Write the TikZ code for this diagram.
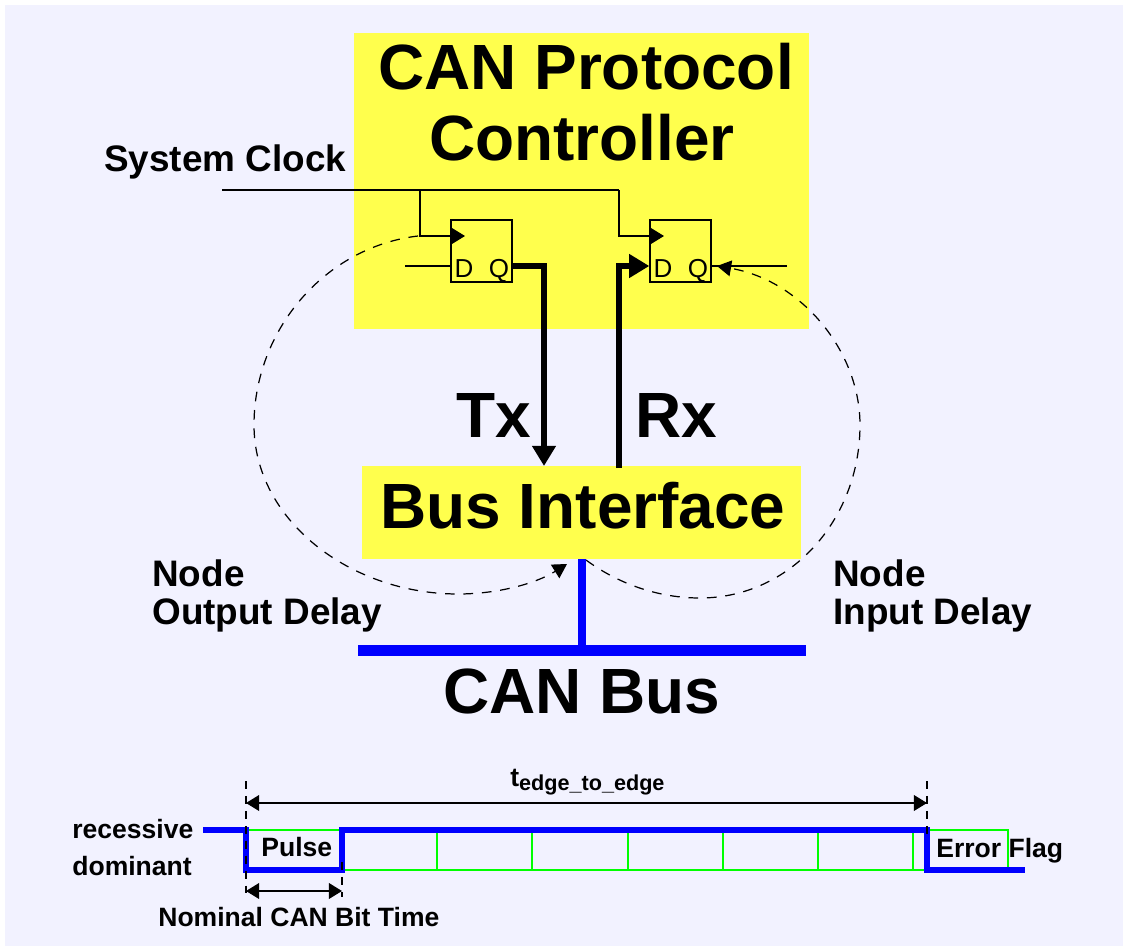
\documentclass[tikz,border=0pt]{standalone}
\usepackage{fontspec}
\setmainfont{Liberation Sans}
\usetikzlibrary{arrows.meta}
\definecolor{panelblue}{RGB}{242,242,255}
\definecolor{boxyellow}{RGB}{255,255,77}
\definecolor{busblue}{RGB}{0,0,255}
\definecolor{slotgreen}{RGB}{0,255,0}
\tikzset{
  biglabel/.style={font=\fontsize{36.4}{36.4}\selectfont\bfseries,inner sep=0pt,anchor=base},
  midlabel/.style={font=\fontsize{21}{21}\selectfont\bfseries,inner sep=0pt,anchor=base west},
  smalllabel/.style={font=\fontsize{15.1}{15.1}\selectfont\bfseries,inner sep=0pt,anchor=base west},
  pinlabel/.style={font=\fontsize{14.8}{14.8}\selectfont,inner sep=0pt,anchor=base},
  flipflop/.style={draw,line width=0.8pt,minimum width=1.22cm,minimum height=1.24cm,inner sep=0pt},
  thinwire/.style={line width=0.85pt},
  thickwire/.style={line width=2.9pt},
  buswire/.style={busblue,line width=2.9pt},
  slotwire/.style={slotgreen,line width=1pt},
  delaycurve/.style={line width=0.7pt,dash pattern=on 5.5pt off 5pt},
  tickline/.style={line width=0.9pt,dash pattern=on 4.5pt off 4pt},
  clocktip/.style={-{Triangle[length=7.5pt,width=9pt]}},
  widetip/.style={-{Triangle[length=11.5pt,width=13pt]}},
  delaytip/.style={-{Triangle[length=8pt,width=9pt]}},
  spantip/.style={{Triangle[length=7.5pt,width=9pt]}-{Triangle[length=7.5pt,width=9pt]}}
}
\begin{document}
\begin{tikzpicture}[x=0.02cm,y=-0.02cm]
\useasboundingbox (0,0) rectangle (1123,946);
\fill[panelblue] (5,5) rectangle (1123,946);
% yellow blocks
\fill[boxyellow] (354,33) rectangle (809,329);
\fill[boxyellow] (362,466) rectangle (801,559);
\node[biglabel] (PROTO) at (586,90) {CAN Protocol};
\node[biglabel] (CTRL) at (582,160) {Controller};
\node[biglabel] (BUSIF) at (583,528) {Bus Interface};
\node[biglabel] (TX) at (494,437) {Tx};
\node[biglabel] (RX) at (676,437) {Rx};
\node[biglabel] (CANBUS) at (582,713) {CAN Bus};
\node[midlabel] (SYSCLK) at (104,172) {System Clock};
\node[midlabel] (NODEA) at (152,586) {Node};
\node[midlabel] (OUTDLY) at (152,624) {Output Delay};
\node[midlabel] (NODEB) at (833,586) {Node};
\node[midlabel] (INDLY) at (833,624) {Input Delay};
% flip flops
\node[flipflop] (FFA) at (481.5,251) {};
\node[flipflop] (FFB) at (680.5,251) {};
\node[pinlabel] (DA) at (464,277) {D};
\node[pinlabel] (QA) at (499,277) {Q};
\node[pinlabel] (DB) at (663,277) {D};
\node[pinlabel] (QB) at (698,277) {Q};
\coordinate (CLKL) at (222,190); % clock line start
\coordinate (CLKM) at (420,190); % branch to first flop
\coordinate (CLKR) at (619,190);
\coordinate (CKA) at (465,236); % clock tips
\coordinate (CKB) at (664,236);
\coordinate (INA) at (405,266);
\coordinate (INB) at (787,266);
\draw[thinwire] (CLKL) -- (CLKR);
\draw[thinwire,clocktip] (CLKM) |- (CKA);
\draw[thinwire,clocktip] (CLKR) |- (CKB);
\draw[thinwire] (INA) -- (FFA.west|-INA);
\draw[thinwire] (INB) -- (FFB.east|-INB);
% Tx and Rx
\coordinate (TXT) at (544,466);
\coordinate (RXB) at (619,468);
\draw[thickwire,widetip] (FFA.east|-INA) -| (TXT);
\draw[thickwire,widetip] (RXB) |- (FFB.west|-INB);
% delay curves
\coordinate (ODS) at (418,236);
\coordinate (ODL) at (254,425);
\coordinate (ODB) at (458,594);
\coordinate (ODE) at (567,564);
\coordinate (IDS) at (586,560);
\coordinate (IDB) at (700,598);
\coordinate (IDR) at (860,425);
\coordinate (IDE) at (717,266);
\draw[delaycurve,delaytip] (ODS) .. controls (325,247) and (254,330) .. (ODL) .. controls (254,520) and (350,594) .. (ODB) .. controls (497,594) and (535,584) .. (ODE);
\draw[delaycurve,delaytip] (IDS) .. controls (620,585) and (660,598) .. (IDB) .. controls (790,598) and (860,520) .. (IDR) .. controls (860,350) and (800,280) .. (IDE);
% bus
\coordinate (BUSL) at (358,650.5);
\coordinate (BUSR) at (806,650.5);
\coordinate (BUST) at (582,559);
\coordinate (BUSM) at (582,655);
\draw[busblue,line width=6pt] (BUSL) -- (BUSR);
\draw[busblue,line width=5.1pt] (BUST) -- (BUSM);
% timing, bit slots
\draw[slotwire] (246,830) -- (342,830);
\draw[slotwire] (342,870) -- (927,870);
\foreach \slotx in {437,532,628,723,818,913}
  \draw[slotwire] (\slotx,830) -- (\slotx,870);
\draw[slotwire] (927,830) -- (1008,830) -- (1008,870) -- (927,870);
% timing, level
\coordinate (SIGA) at (203,830);
\coordinate (SIGB) at (246,830);
\coordinate (SIGC) at (246,870);
\coordinate (SIGD) at (342,870);
\coordinate (SIGE) at (342,830);
\coordinate (SIGF) at (927,830);
\coordinate (SIGG) at (927,870);
\coordinate (SIGH) at (1025,870);
\draw[buswire] (SIGA) -- (SIGB) -- (SIGC) -- (SIGD) -- (SIGE) -- (SIGF) -- (SIGG) -- (SIGH);
% timing, spans
\coordinate (TKA) at (246,781);
\coordinate (TKB) at (246,897);
\coordinate (TKC) at (342,862);
\coordinate (TKD) at (342,897);
\coordinate (TKE) at (927,781);
\coordinate (TKF) at (927,835);
\coordinate (SPA) at (246,803);
\coordinate (SPB) at (927,803);
\coordinate (SPC) at (246,891);
\coordinate (SPD) at (342,891);
\draw[tickline] (TKA) -- (TKB);
\draw[tickline] (TKC) -- (TKD);
\draw[tickline] (TKE) -- (TKF);
\draw[thinwire,spantip] (SPA) -- (SPB);
\draw[thinwire,spantip] (SPC) -- (SPD);
\node[smalllabel] (RECESS) at (72,838) {recessive};
\node[smalllabel] (DOMIN) at (72,875) {dominant};
\node[smalllabel] (PULSE) at (261,856) {Pulse};
\node[smalllabel] (ERRFLAG) at (936,857) {Error Flag};
\node[smalllabel] (BITTIME) at (158,926) {Nominal CAN Bit Time};
\node[smalllabel] (TEDGE) at (510,786) {t\raisebox{-0.3ex}{\fontsize{12.3}{12.3}\selectfont edge\_to\_edge}};
\end{tikzpicture}
\end{document}
